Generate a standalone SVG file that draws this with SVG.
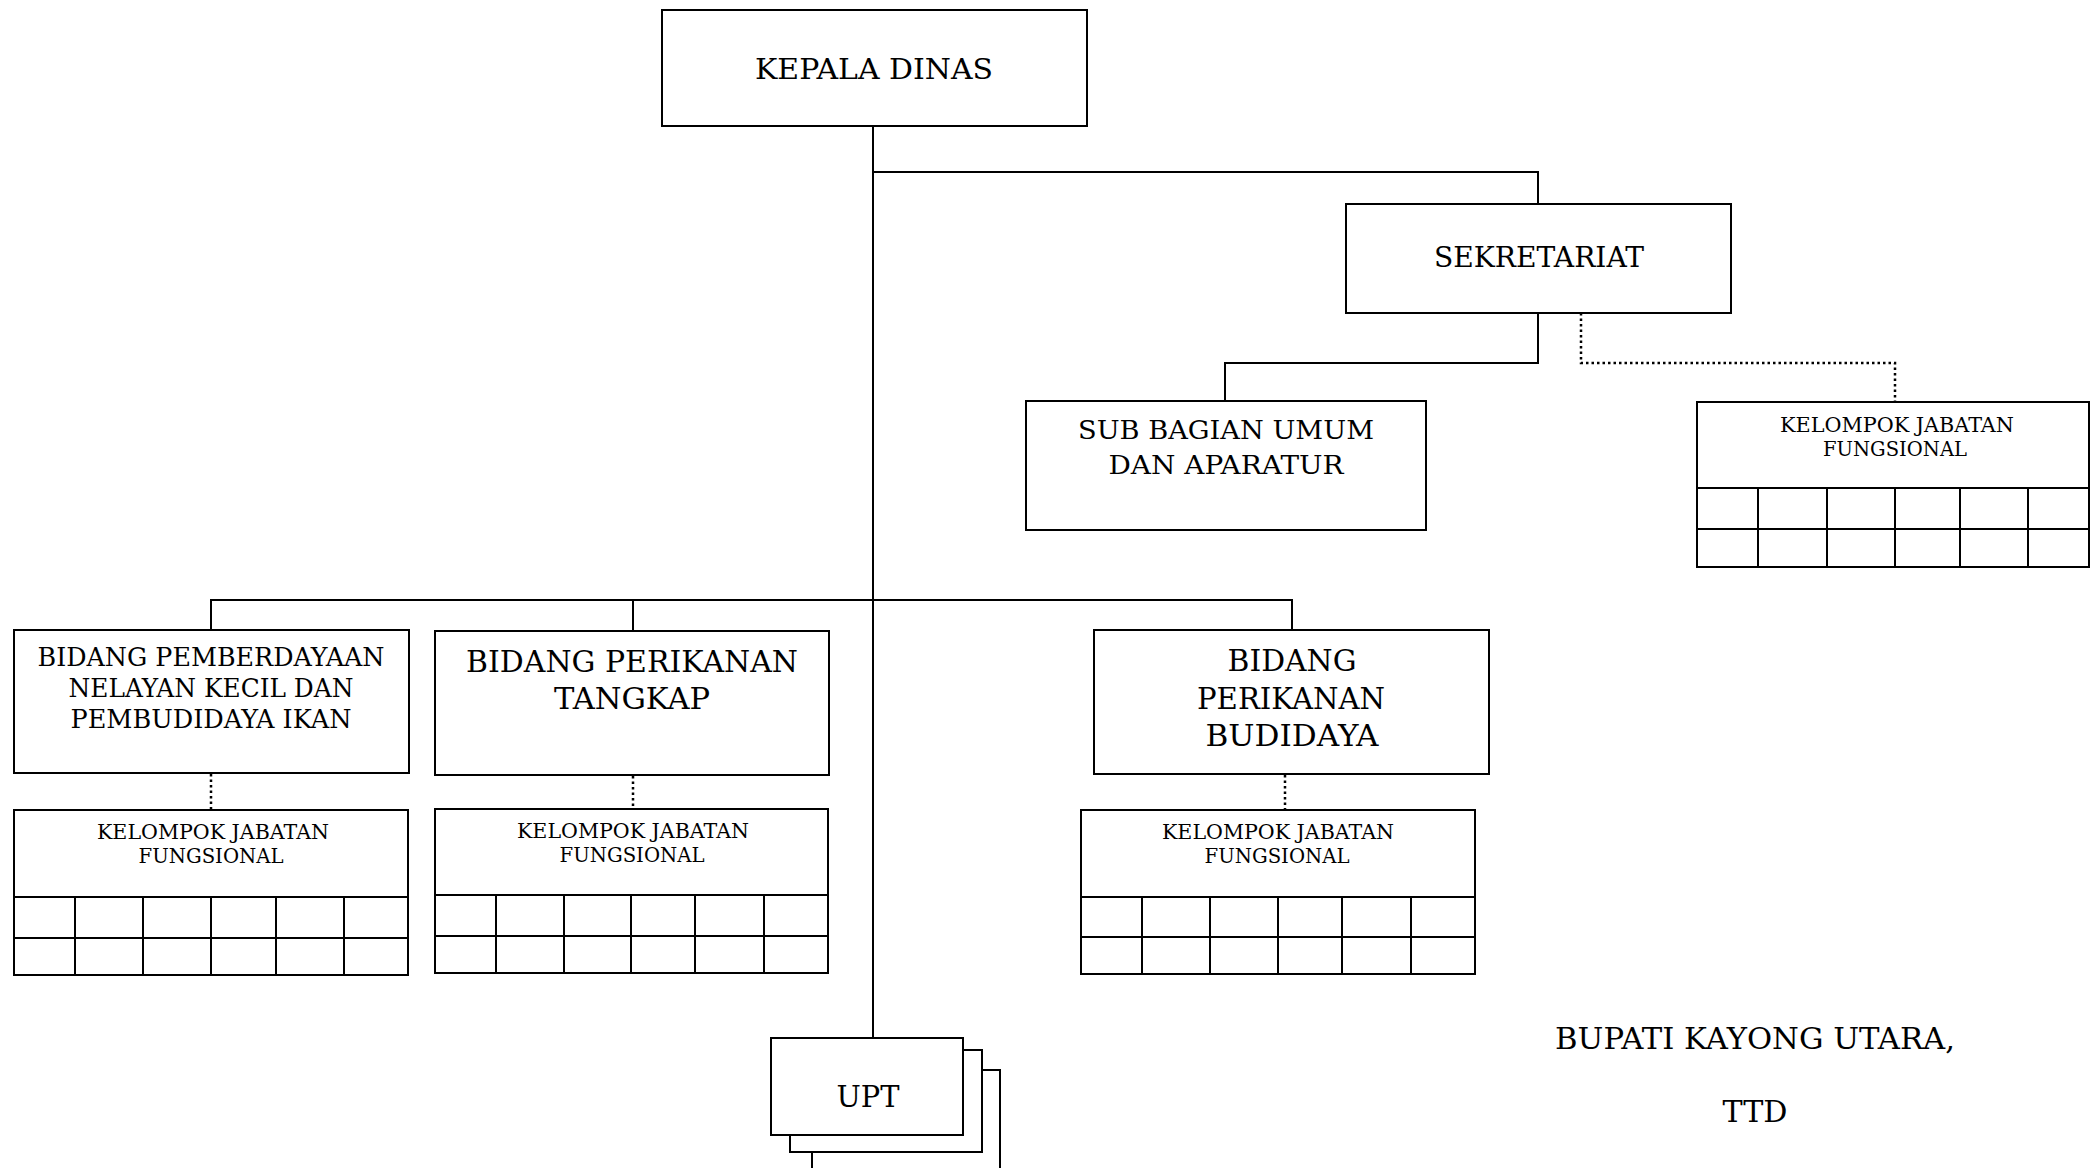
<svg xmlns="http://www.w3.org/2000/svg" width="2092" height="1168" viewBox="0 0 2092 1168">
<style>
.box{fill:#fff;stroke:#000;stroke-width:2}
.ln{fill:none;stroke:#000;stroke-width:2}
.dot{fill:none;stroke:#000;stroke-width:2.5;stroke-dasharray:2.5 3}
text{font-family:"DejaVu Serif","Liberation Serif",serif;fill:#000;text-anchor:middle}
.s19{font-size:20px}
</style>
<rect width="2092" height="1168" fill="#fff"/>
<g id="connectors">
<path class="ln" d="M873 126V1038"/>
<path class="ln" d="M873 172H1538V204"/>
<path class="ln" d="M1538 313V363H1225V401"/>
<path class="dot" d="M1581 313V363H1895V402"/>
<path class="ln" d="M211 630V600H1292V630"/>
<path class="ln" d="M633 600V631"/>
<path class="dot" d="M211 774V810"/>
<path class="dot" d="M633 776V809"/>
<path class="dot" d="M1285 775V810"/>
</g>
<g id="kepala-dinas">
<rect class="box" x="662" y="10" width="425" height="116"/>
<text x="874" y="79" font-size="28" textLength="238" lengthAdjust="spacingAndGlyphs">KEPALA DINAS</text>
</g>
<g id="sekretariat">
<rect class="box" x="1346" y="204" width="385" height="109"/>
<text x="1539" y="267" font-size="28" textLength="210" lengthAdjust="spacingAndGlyphs">SEKRETARIAT</text>
</g>
<g id="sub-bagian">
<rect class="box" x="1026" y="401" width="400" height="129"/>
<text x="1226" y="439" font-size="26.5" textLength="296" lengthAdjust="spacingAndGlyphs">SUB BAGIAN UMUM</text>
<text x="1226" y="474" font-size="26.5" textLength="235" lengthAdjust="spacingAndGlyphs">DAN APARATUR</text>
</g>
<g id="kjf-sekretariat">
<rect class="box" x="1697" y="402" width="392" height="165"/>
<path class="ln" d="M1697 488H2089M1697 529H2089M1758 488V567M1827 488V567M1895 488V567M1960 488V567M2028 488V567"/>
<text class="s19" x="1897" y="432" textLength="234" lengthAdjust="spacingAndGlyphs">KELOMPOK JABATAN</text>
<text class="s19" x="1895" y="456" textLength="144" lengthAdjust="spacingAndGlyphs">FUNGSIONAL</text>
</g>
<g id="bidang-pemberdayaan">
<rect class="box" x="14" y="630" width="395" height="143"/>
<text x="211" y="666" font-size="26" textLength="347" lengthAdjust="spacingAndGlyphs">BIDANG PEMBERDAYAAN</text>
<text x="211" y="697" font-size="26" textLength="285" lengthAdjust="spacingAndGlyphs">NELAYAN KECIL DAN</text>
<text x="211" y="728" font-size="26" textLength="281" lengthAdjust="spacingAndGlyphs">PEMBUDIDAYA IKAN</text>
</g>
<g id="kjf-pemberdayaan">
<rect class="box" x="14" y="810" width="394" height="165"/>
<path class="ln" d="M14 897H408M14 938H408M75 897V975M143 897V975M211 897V975M276 897V975M344 897V975"/>
<text class="s19" x="213" y="839" textLength="232" lengthAdjust="spacingAndGlyphs">KELOMPOK JABATAN</text>
<text class="s19" x="211" y="863" textLength="145" lengthAdjust="spacingAndGlyphs">FUNGSIONAL</text>
</g>
<g id="bidang-tangkap">
<rect class="box" x="435" y="631" width="394" height="144"/>
<text x="632" y="672" font-size="29.5" textLength="332" lengthAdjust="spacingAndGlyphs">BIDANG PERIKANAN</text>
<text x="632" y="709" font-size="29.5" textLength="156" lengthAdjust="spacingAndGlyphs">TANGKAP</text>
</g>
<g id="kjf-tangkap">
<rect class="box" x="435" y="809" width="393" height="164"/>
<path class="ln" d="M435 895H828M435 936H828M496 895V973M564 895V973M631 895V973M695 895V973M764 895V973"/>
<text class="s19" x="633" y="838" textLength="232" lengthAdjust="spacingAndGlyphs">KELOMPOK JABATAN</text>
<text class="s19" x="632" y="862" textLength="145" lengthAdjust="spacingAndGlyphs">FUNGSIONAL</text>
</g>
<g id="bidang-budidaya">
<rect class="box" x="1094" y="630" width="395" height="144"/>
<text x="1292" y="671" font-size="30" textLength="129" lengthAdjust="spacingAndGlyphs">BIDANG</text>
<text x="1291" y="709" font-size="30" textLength="188" lengthAdjust="spacingAndGlyphs">PERIKANAN</text>
<text x="1292" y="746" font-size="30" textLength="173" lengthAdjust="spacingAndGlyphs">BUDIDAYA</text>
</g>
<g id="kjf-budidaya">
<rect class="box" x="1081" y="810" width="394" height="164"/>
<path class="ln" d="M1081 897H1475M1081 937H1475M1142 897V974M1210 897V974M1278 897V974M1342 897V974M1411 897V974"/>
<text class="s19" x="1278" y="839" textLength="232" lengthAdjust="spacingAndGlyphs">KELOMPOK JABATAN</text>
<text class="s19" x="1277" y="863" textLength="145" lengthAdjust="spacingAndGlyphs">FUNGSIONAL</text>
</g>
<g id="upt">
<rect class="box" x="812" y="1070" width="188" height="110"/>
<rect class="box" x="790" y="1050" width="192" height="102"/>
<rect class="box" x="771" y="1038" width="192" height="97"/>
<text x="868" y="1107" font-size="29" textLength="63" lengthAdjust="spacingAndGlyphs">UPT</text>
</g>
<g id="signature">
<text x="1755" y="1049" font-size="29" textLength="400" lengthAdjust="spacingAndGlyphs">BUPATI KAYONG UTARA,</text>
<text x="1755" y="1122" font-size="29" textLength="65" lengthAdjust="spacingAndGlyphs">TTD</text>
</g>
</svg>
